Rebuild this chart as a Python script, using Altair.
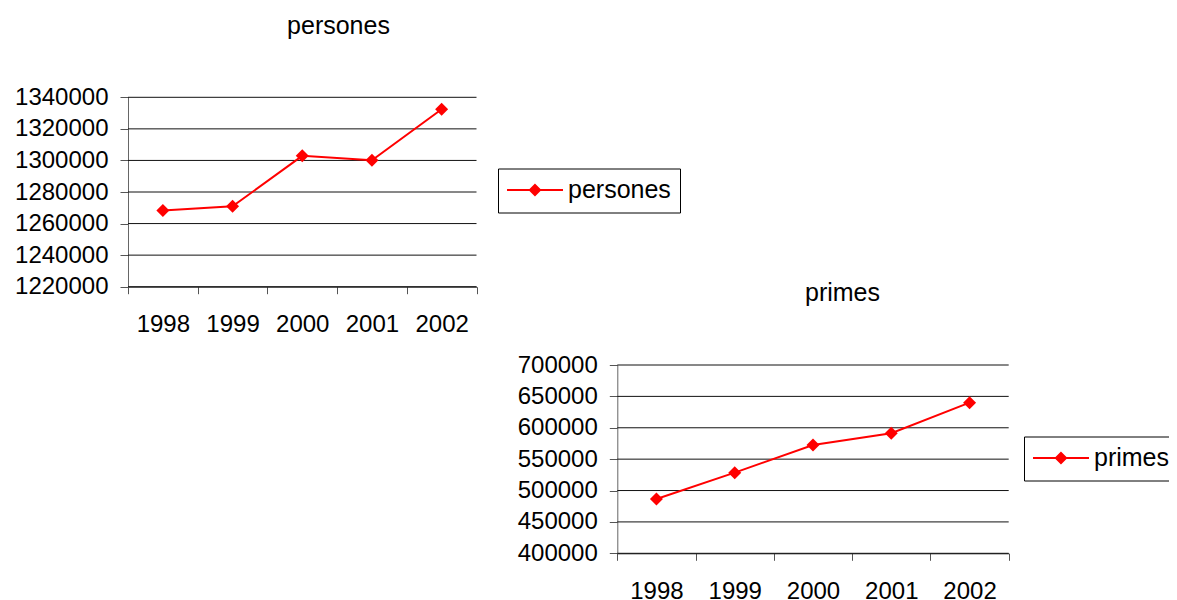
import altair as alt
import pandas as pd

# ---- data ----
years = ["1998", "1999", "2000", "2001", "2002"]
persones = [1268300, 1270900, 1302900, 1300100, 1332400]
primes = [486500, 528500, 572600, 591200, 640000]
persones_ticks = [1220000, 1240000, 1260000, 1280000, 1300000, 1320000, 1340000]
primes_ticks = [400000, 450000, 500000, 550000, 600000, 650000, 700000]

W, H = 1161, 592
FONT = "Liberation Sans"
RED = "#ff0000"

label_expr = "[" + ",".join("'%s'" % y for y in years) + "][floor(datum.value)]"
# legend symbol: a red line with a diamond on it (filled shapes, unit = sqrt(size)/2)
LEG_PATH = "M-1.92,-0.16H6.69V0.16H-1.92Z M2.38,-1L3.38,0L2.38,1L1.38,0Z"


def panel(name, values, ticks, xr, yr, title_xy, legend_xy):
    n = len(years)
    df = pd.DataFrame({"i": [k + 0.5 for k in range(n)], "year": years,
                       "v": values, "serie": name})
    gdf = pd.DataFrame({"t": ticks, "x0": 0, "x1": n})
    xs = alt.Scale(domain=[0, n], range=xr, nice=False, zero=False)
    ys = alt.Scale(domain=[ticks[0], ticks[-1]], range=yr, nice=False, zero=False)
    x_off = yr[0] - H

    y_axis = alt.Axis(
        orient="left", offset=-xr[0], values=ticks, format="d", grid=False,
        tickSize=8, tickColor="#555555", domainColor="#666666",
        labelFont=FONT, labelFontSize=24, labelColor="black", labelPadding=12,
        labelOverlap=False,
        title=name, titleX=title_xy[0] - xr[0], titleY=title_xy[1], titleAngle=0,
        titleAlign="center", titleBaseline="alphabetic", titleFont=FONT,
        titleFontSize=25, titleFontWeight="normal", titleColor="black",
    )
    tick_axis = alt.Axis(
        orient="bottom", offset=x_off, values=list(range(n + 1)), labels=False,
        grid=False, tickSize=7, tickColor="#555555", domainColor="#222222",
        title=None,
    )
    label_axis = alt.Axis(
        orient="bottom", offset=x_off, values=[k + 0.5 for k in range(n)],
        labelExpr=label_expr, ticks=False, tickSize=0, domain=False, grid=False,
        labelFont=FONT, labelFontSize=24, labelColor="black",
        labelBaseline="alphabetic", labelPadding=45, labelFlush=False,
        labelOverlap=False, title=None,
    )

    grid = alt.Chart(gdf).mark_rule(color="#111111", strokeWidth=1).encode(
        x=alt.X("x0:Q", scale=xs, axis=tick_axis),
        x2="x1:Q",
        y=alt.Y("t:Q", scale=ys, axis=y_axis),
    )
    line = alt.Chart(df).mark_line(color=RED, strokeWidth=2).encode(
        x=alt.X("i:Q", scale=xs, axis=label_axis),
        y=alt.Y("v:Q", scale=ys, axis=None),
    )
    pts = alt.Chart(df).mark_point(filled=True, shape="diamond", size=169, opacity=1).encode(
        x=alt.X("i:Q", scale=xs, axis=None),
        y=alt.Y("v:Q", scale=ys, axis=None),
        color=alt.Color(
            "serie:N",
            scale=alt.Scale(domain=[name], range=[RED]),
            legend=alt.Legend(
                orient="none", legendX=legend_xy[0], legendY=legend_xy[1], title=None,
                symbolType=LEG_PATH, symbolSize=169, symbolStrokeWidth=0,
                symbolFillColor=RED, labelOffset=36, labelFont=FONT, labelFontSize=25,
                labelColor="black", padding=9, strokeColor="black", fillColor="white",
                cornerRadius=0,
            ),
        ),
    )
    return [grid, line, pts]


layers = panel("persones", persones, persones_ticks, [120, 468.5], [278.7, 89.3],
               (330, 25), (490, 160.5))
layers += panel("primes", primes, primes_ticks, [609.3, 1000.7], [545.3, 357],
                (834, 292), (1016, 428.5))

chart = (
    alt.layer(*layers)
    .resolve_scale(x="independent", y="independent", color="independent")
    .resolve_axis(x="independent", y="independent")
    .resolve_legend(color="independent")
    .properties(width=W, height=H, padding=0, autosize=alt.AutoSizeParams(type="none"),
                background="white")
    .configure_view(stroke=None)
)

chart.save("out.html", embed_options={"renderer": "svg", "actions": False})
